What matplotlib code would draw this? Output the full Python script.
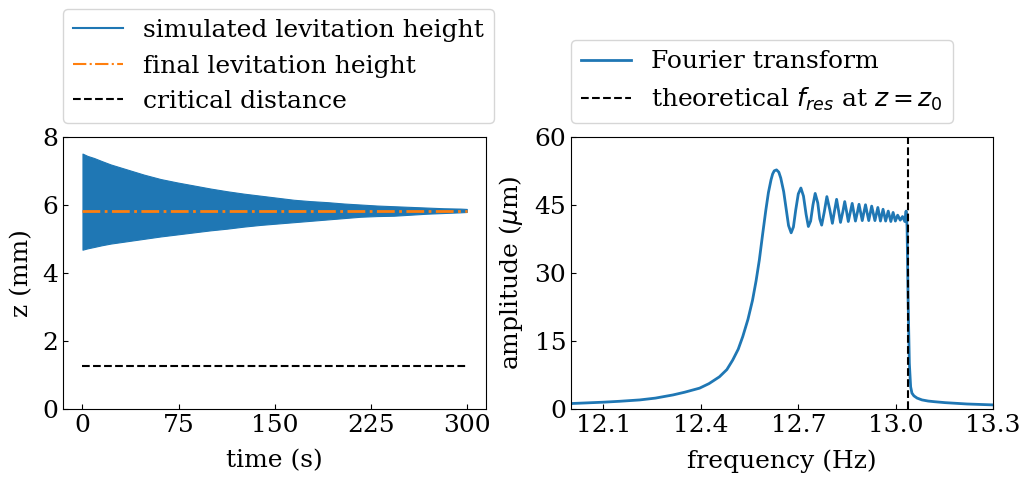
import matplotlib
matplotlib.use("Agg")
import matplotlib.pyplot as plt
from matplotlib.lines import Line2D

# ---------------- data ----------------
# Left panel: envelope of the simulated levitation height oscillation
time_s = [0, 4, 9, 15, 22, 35, 48, 61, 74, 87, 100, 113, 126, 139, 152, 165, 178, 191, 204,
          217, 230, 243, 256, 269, 282, 295, 300]
z_upper = [7.52, 7.45, 7.39, 7.30, 7.20, 7.05, 6.90, 6.77, 6.67, 6.58, 6.49, 6.41, 6.34, 6.28,
           6.22, 6.16, 6.12, 6.09, 6.05, 6.02, 5.99, 5.97, 5.95, 5.93, 5.91, 5.90, 5.89]
z_lower = [4.69, 4.73, 4.77, 4.82, 4.87, 4.94, 5.01, 5.08, 5.14, 5.20, 5.26, 5.31, 5.37, 5.42,
           5.46, 5.50, 5.54, 5.58, 5.62, 5.66, 5.68, 5.69, 5.72, 5.75, 5.77, 5.79, 5.80]
final_height = 5.84
critical_distance = 1.28
time_range = [0, 300]

# Right panel: Fourier transform amplitude
freq_hz = [12.000, 12.050, 12.100, 12.150, 12.212, 12.260, 12.314, 12.350, 12.396, 12.425,
           12.457, 12.480, 12.498, 12.515, 12.529, 12.545, 12.559, 12.570, 12.580, 12.590,
           12.600, 12.608, 12.616, 12.621, 12.626, 12.633, 12.640, 12.646, 12.655, 12.662,
           12.670, 12.678, 12.685, 12.692, 12.700, 12.708, 12.716, 12.724, 12.731, 12.738,
           12.745, 12.752, 12.760, 12.766, 12.772, 12.780, 12.788, 12.797, 12.805, 12.811,
           12.818, 12.824, 12.830, 12.837, 12.843, 12.849, 12.854, 12.860, 12.866, 12.871,
           12.876, 12.882, 12.887, 12.892, 12.897, 12.902, 12.907, 12.912, 12.917, 12.926,
           12.936, 12.945, 12.953, 12.961, 12.969, 12.977, 12.985, 12.992, 12.999, 13.006,
           13.014, 13.021, 13.028, 13.032, 13.035, 13.038, 13.042, 13.046, 13.050, 13.056,
           13.066, 13.081, 13.100, 13.120, 13.152, 13.220, 13.300]
amp_um = [1.2, 1.35, 1.5, 1.7, 2.0, 2.4, 3.1, 3.7, 4.6, 5.6,
          7.1, 8.7, 10.8, 13.2, 16.0, 19.8, 24.0, 28.3, 32.9, 38.5,
          43.9, 47.8, 50.6, 51.9, 52.6, 52.8, 52.3, 51.0, 48.0, 44.5,
          40.5, 38.9, 40.2, 43.9, 47.5, 48.8, 47.0, 43.0, 40.3, 41.5,
          45.0, 47.6, 45.5, 42.0, 40.6, 43.5, 46.9, 44.0, 41.0, 43.5,
          46.3, 43.8, 41.2, 43.5, 45.8, 43.5, 41.4, 43.4, 45.4, 43.4,
          41.5, 43.4, 45.2, 43.4, 41.6, 43.4, 45.1, 43.3, 41.6, 44.8,
          41.6, 44.5, 41.5, 44.1, 41.5, 43.7, 41.4, 43.4, 41.5, 42.8,
          41.7, 42.5, 41.4, 43.7, 40.3, 24.8, 10.1, 4.9, 3.5, 2.9,
          2.4, 2.0, 1.75, 1.6, 1.4, 1.1, 0.9]
f_res_theory = 13.038

# ---------------- figure ----------------
plt.rcParams['font.family'] = ['DejaVu Serif']
plt.rcParams['mathtext.fontset'] = 'dejavusans'
plt.rcParams['font.size'] = 18

fig = plt.figure(figsize=(10.27, 4.78), dpi=100)
ax1 = fig.add_axes([0.0616, 0.1444, 0.4116, 0.5684])
ax2 = fig.add_axes([0.5560, 0.1444, 0.4110, 0.5684])

blue = '#1f77b4'
orange = '#ff7f0e'

# Left panel
ax1.fill_between(time_s, z_lower, z_upper, color=blue, linewidth=0.8, edgecolor=blue)
ax1.plot(time_range, [final_height, final_height], color=orange, linestyle='-.', lw=2)
ax1.plot(time_range, [critical_distance, critical_distance], color='black', linestyle='--', lw=1.5)
ax1.set_xlim(-15, 315)
ax1.set_ylim(0, 8)
ax1.set_xticks([0, 75, 150, 225, 300])
ax1.set_yticks([0, 2, 4, 6, 8])
ax1.set_xlabel('time (s)', labelpad=9)
ax1.set_ylabel('z (mm)', labelpad=7)
handles1 = [Line2D([], [], color=blue, lw=1.5),
            Line2D([], [], color=orange, lw=1.5, linestyle='-.'),
            Line2D([], [], color='black', lw=1.5, linestyle='--')]
labels1 = ['simulated levitation height', 'final levitation height', 'critical distance']
ax1.legend(handles1, labels1, loc='lower left', bbox_to_anchor=(0, 1.052),
           borderaxespad=0, fontsize=18, handlelength=2.0, handletextpad=0.8)

# Right panel
ax2.plot(freq_hz, amp_um, color=blue, lw=2, label='Fourier transform')
ax2.axvline(f_res_theory, color='black', linestyle='--', lw=1.5,
            label=r'theoretical $f_{res}$ at $z = z_0$')
ax2.set_xlim(12.0, 13.3)
ax2.set_ylim(0, 60)
ax2.set_xticks([12.1, 12.4, 12.7, 13.0, 13.3])
ax2.set_yticks([0, 15, 30, 45, 60])
ax2.set_xlabel('frequency (Hz)', labelpad=9)
ax2.set_ylabel(r'amplitude ($\mu$m)', labelpad=7)
ax2.legend(loc='lower left', bbox_to_anchor=(0, 1.052), borderaxespad=0,
           fontsize=18, handlelength=2.0, handletextpad=0.8)

for ax in (ax1, ax2):
    ax.tick_params(direction='in', which='both')

fig.savefig('out.png', dpi=100)
